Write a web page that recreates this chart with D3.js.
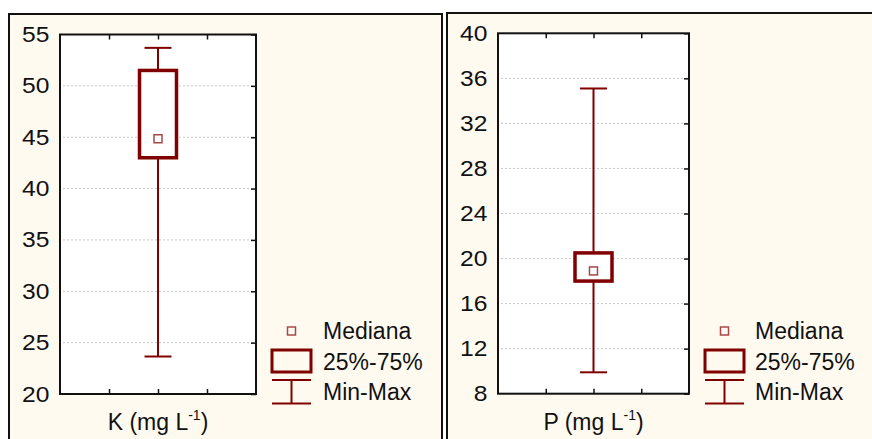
<!DOCTYPE html>
<html>
<head>
<meta charset="utf-8">
<script src="https://cdn.jsdelivr.net/npm/d3@7"></script>
<style>
  body { margin: 0; background: #ffffff; }
  svg { display: block; font-family: Arial, "Liberation Sans", sans-serif; }
</style>
</head>
<body>
<svg id="chart" width="872" height="439"></svg>
<script>
// values
const varNames = ["K", "P"];
const minValues = [23.65, 9.9];
const q1Values = [43.0, 18.0];
const medianValues = [44.85, 18.9];
const q3Values = [51.5, 20.5];
const maxValues = [53.7, 35.1];
const yTicksK = [20, 25, 30, 35, 40, 45, 50, 55];
const yTicksP = [8, 12, 16, 20, 24, 28, 32, 36, 40];
const legendLabels = ["Mediana", "25%-75%", "Min-Max"];

const darkRed = "#800000";
const medRed = "#a84848";
const cream = "#fefaf0";

// layout of the two panels
const panels = [
    { frameX: 9, frameY: 14, frameW: 433, left: 60, right: 256, top: 34.5, bottom: 394, ticks: yTicksK, textDx: 67 },
    { frameX: 447, frameY: 13, frameW: 440, left: 498, right: 689, top: 33.3, bottom: 393.7, ticks: yTicksP, textDx: 66 }
];

const svg = d3.select("#chart");

panels.forEach((p, i) => {
    const g = svg.append("g");

    // panel background + frame
    g.append("rect")
        .attr("x", p.frameX).attr("y", p.frameY)
        .attr("width", p.frameW).attr("height", 460)
        .attr("fill", cream)
        .attr("stroke", "#111")
        .attr("stroke-width", 2);

    const yTicks = p.ticks;
    const yScale = d3.scaleLinear()
        .domain([yTicks[0], yTicks[yTicks.length - 1]])
        .range([p.bottom, p.top]);

    const xScale = d3.scalePoint()
        .domain([varNames[i]])
        .range([p.left, p.right])
        .padding(0.5);

    // decorative quarter ticks along x
    const qScale = d3.scaleLinear().domain([0, 4]).range([p.left, p.right]);

    // plot area
    g.append("rect")
        .attr("x", p.left).attr("y", p.top)
        .attr("width", p.right - p.left).attr("height", p.bottom - p.top)
        .attr("fill", "#fff");

    // gridlines
    g.append("g")
        .selectAll("line")
        .data(yTicks.slice(1, -1))
        .enter()
        .append("line")
        .attr("x1", p.left + 3).attr("x2", p.right - 3)
        .attr("y1", d => yScale(d)).attr("y2", d => yScale(d))
        .attr("stroke", "#c8c8c8")
        .attr("stroke-width", 1)
        .attr("stroke-dasharray", "2,2");

    // y axis labels on the left (glyphs a bit wide in the original)
    const yAxisLeft = d3.axisLeft(yScale).tickValues(yTicks).tickSize(0).tickPadding(9.5);
    const ay = g.append("g")
        .attr("transform", `translate(${p.left},0)`)
        .call(yAxisLeft);
    ay.select(".domain").remove();
    ay.selectAll("text")
        .attr("font-size", 22)
        .attr("font-family", "Arial, 'Liberation Sans', sans-serif")
        .attr("transform", "scale(1.12,1)")
        .attr("fill", "#111");

    // inner ticks on the right side
    const ayR = g.append("g")
        .attr("transform", `translate(${p.right},0)`)
        .call(d3.axisLeft(yScale).tickValues(yTicks).tickSize(5).tickFormat(""));
    ayR.select(".domain").remove();
    ayR.selectAll("line").attr("stroke", "#111").attr("stroke-width", 1.5);

    // inner ticks on top and bottom
    const axB = g.append("g")
        .attr("transform", `translate(0,${p.bottom})`)
        .call(d3.axisTop(qScale).tickValues([1, 2, 3]).tickSize(5).tickFormat(""));
    axB.select(".domain").remove();
    axB.selectAll("line").attr("stroke", "#111").attr("stroke-width", 1.5);
    const axT = g.append("g")
        .attr("transform", `translate(0,${p.top})`)
        .call(d3.axisBottom(qScale).tickValues([1, 2, 3]).tickSize(5).tickFormat(""));
    axT.select(".domain").remove();
    axT.selectAll("line").attr("stroke", "#111").attr("stroke-width", 1.5);

    // plot frame
    g.append("rect")
        .attr("x", p.left).attr("y", p.top)
        .attr("width", p.right - p.left).attr("height", p.bottom - p.top)
        .attr("fill", "none")
        .attr("stroke", "#111")
        .attr("stroke-width", 2);

    // box plot
    const cx = xScale(varNames[i]);
    const boxW = 37, capW = 27, medS = 8;

    g.append("line")
        .attr("x1", cx).attr("x2", cx)
        .attr("y1", yScale(minValues[i])).attr("y2", yScale(maxValues[i]))
        .attr("stroke", darkRed).attr("stroke-width", 2);
    [minValues[i], maxValues[i]].forEach(v => {
        g.append("line")
            .attr("x1", cx - capW / 2).attr("x2", cx + capW / 2)
            .attr("y1", yScale(v)).attr("y2", yScale(v))
            .attr("stroke", darkRed).attr("stroke-width", 2);
    });
    g.append("rect")
        .attr("x", cx - boxW / 2)
        .attr("y", yScale(q3Values[i]))
        .attr("width", boxW)
        .attr("height", yScale(q1Values[i]) - yScale(q3Values[i]))
        .attr("fill", "#fff")
        .attr("stroke", darkRed).attr("stroke-width", 3.5);
    g.append("rect")
        .attr("x", cx - medS / 2)
        .attr("y", yScale(medianValues[i]) - medS / 2)
        .attr("width", medS).attr("height", medS)
        .attr("fill", "#fff")
        .attr("stroke", medRed).attr("stroke-width", 1.5);

    // x label with superscript
    const xl = g.append("text")
        .attr("x", cx).attr("y", 430)
        .attr("text-anchor", "middle")
        .attr("font-size", 23)
        .attr("fill", "#111");
    xl.append("tspan").text(varNames[i] + " (mg L");
    xl.append("tspan").attr("font-size", 14).attr("dy", -10).text("-1");
    xl.append("tspan").attr("dy", 10).text(")");

    // legend
    const lx = p.right + 16, lw = 39;
    g.append("rect")
        .attr("x", lx + lw / 2 - 4).attr("y", 327)
        .attr("width", 8).attr("height", 8)
        .attr("fill", "none")
        .attr("stroke", medRed).attr("stroke-width", 1.5);
    g.append("rect")
        .attr("x", lx).attr("y", 350)
        .attr("width", lw).attr("height", 22)
        .attr("fill", "none")
        .attr("stroke", darkRed).attr("stroke-width", 3);
    [380, 403.5].forEach(y => {
        g.append("line")
            .attr("x1", lx).attr("x2", lx + lw)
            .attr("y1", y).attr("y2", y)
            .attr("stroke", darkRed).attr("stroke-width", 2);
    });
    g.append("line")
        .attr("x1", lx + lw / 2).attr("x2", lx + lw / 2)
        .attr("y1", 380).attr("y2", 403.5)
        .attr("stroke", darkRed).attr("stroke-width", 2);

    g.selectAll(".leg")
        .data(legendLabels)
        .enter()
        .append("text")
        .attr("x", p.right + p.textDx)
        .attr("y", (d, k) => [339, 369.5, 400][k])
        .attr("font-size", 23)
        .attr("fill", "#111")
        .text(d => d);
});
</script>
</body>
</html>
